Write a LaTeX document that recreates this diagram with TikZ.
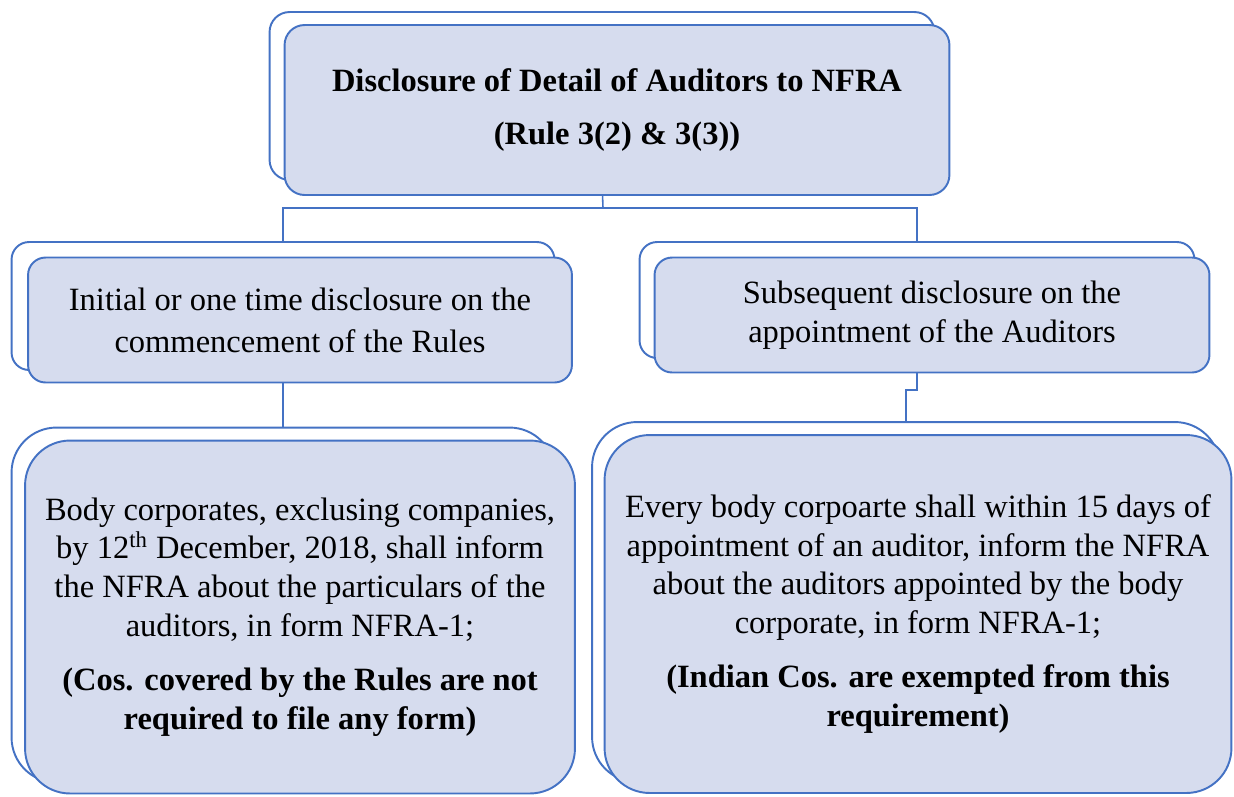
\documentclass[tikz,border=0pt]{standalone}
\usepackage{fontspec}
\setmainfont{Liberation Serif}
\usetikzlibrary{backgrounds}
\definecolor{boxblue}{HTML}{4472C4}
\definecolor{boxfill}{HTML}{D6DCEE}
\tikzset{
  backbox/.style={draw=boxblue, line width=1.1pt, fill=white, inner sep=0pt},
  frontbox/.style={draw=boxblue, line width=1.1pt, fill=boxfill, inner sep=0pt, align=center},
  link/.style={draw=boxblue, line width=0.9pt}
}
\begin{document}
\begin{tikzpicture}[x=0.02cm, y=-0.02cm]
			%%%%% START %%%%%
			\useasboundingbox (0, 0) rectangle (1234, 796);
			
			% top box
			\node[backbox, rounded corners=0.4cm, minimum width=13.3cm, minimum height=3.36cm] (topback) at (602, 96) {};
			\node[frontbox, rounded corners=0.4cm, minimum width=13.3cm, minimum height=3.4cm,
				font={\fontsize{18.5}{30}\selectfont\bfseries}] (top) at (617, 110)
				{Disclosure of Detail of Auditors to NFRA\\ (Rule 3(2) \& 3(3))};
			
			% second row
			\node[backbox, rounded corners=0.35cm, minimum width=10.86cm, minimum height=2.56cm] (lback) at (283, 306) {};
			\node[frontbox, rounded corners=0.35cm, minimum width=10.88cm, minimum height=2.5cm,
				font={\fontsize{18.5}{24}\selectfont}] (left) at (300, 320)
				{Initial or one time disclosure on the\\ commencement of the Rules};
			
			\node[backbox, rounded corners=0.35cm, minimum width=11.1cm, minimum height=2.32cm] (rback) at (917, 300) {};
			\node[frontbox, rounded corners=0.35cm, minimum width=11.1cm, minimum height=2.3cm,
				font={\fontsize{18.5}{22}\selectfont}] (right) at (932, 315)
				{Subsequent disclosure on the\\ appointment of the Auditors};
			
			% bottom row
			\node[backbox, rounded corners=0.9cm, minimum width=10.86cm, minimum height=7.1cm] (blback) at (283, 605) {};
			\node[frontbox, rounded corners=0.9cm, minimum width=11cm, minimum height=7.06cm,
				font={\fontsize{18.5}{22}\selectfont}] (bleft) at (300, 617)
				{Body corporates, exclusing companies,\\ by 12\textsuperscript{th} December, 2018, shall inform\\
				 the NFRA about the particulars of the\\ auditors, in form NFRA-1;\\[9pt]
				 \bfseries (Cos. covered by the Rules are not\\ \bfseries required to file any form)};
			
			\node[backbox, rounded corners=0.9cm, minimum width=12.56cm, minimum height=7.2cm] (brback) at (906, 602) {};
			\node[frontbox, rounded corners=0.9cm, minimum width=12.54cm, minimum height=7.16cm,
				font={\fontsize{18.5}{22}\selectfont}] (bright) at (918, 614)
				{Every body corpoarte shall within 15 days of\\ appointment of an auditor, inform the NFRA\\
				 about the auditors appointed by the body\\ corporate, in form NFRA-1;\\[9pt]
				 \bfseries (Indian Cos. are exempted from this\\ \bfseries requirement)};
			
			% connectors
			\coordinate (split) at (603, 208);
			\begin{pgfonlayer}{background}
				\draw[link] (topback.south) -- (split);
				\draw[link] (lback.north) |- (split) -| (rback.north);
				\draw[link] (lback.south) -- (blback.north);
				\draw[link] (rback.south) -- ++(0, 31) -| (brback.north);
			\end{pgfonlayer}
			%%%%% END %%%%%
\end{tikzpicture}
\end{document}
